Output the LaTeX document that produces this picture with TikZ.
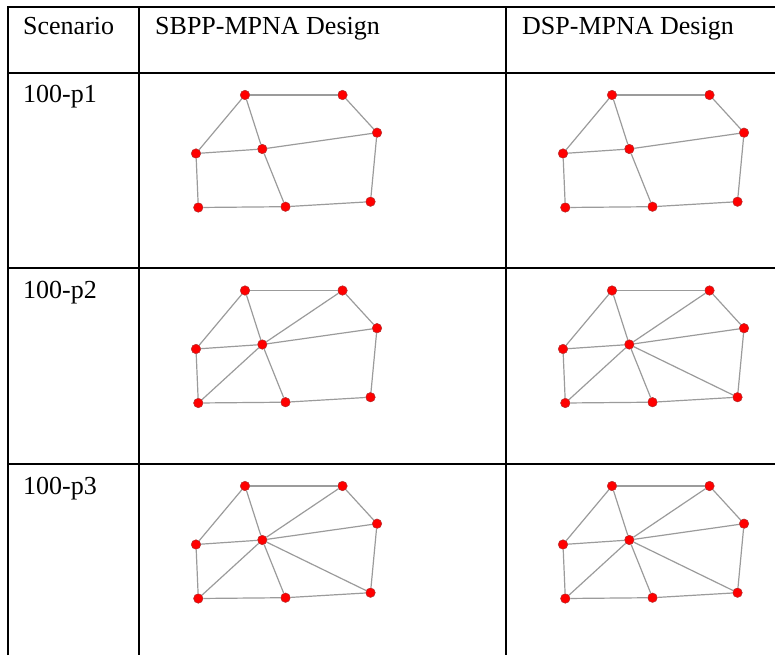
\documentclass[tikz,border=0pt]{standalone}
\usepackage{fontspec}
\setmainfont{Liberation Serif}
\begin{document}
\begin{tikzpicture}[x=1pt,y=-1pt,
  rule/.style={line width=2pt,black},
  cell/.style={anchor=base west,inner sep=0pt,font=\fontsize{26}{30}\selectfont},
  netnode/.style={circle,fill={rgb,255:red,255;green,0;blue,0},draw={rgb,255:red,175;green,45;blue,45},line width=0.5pt,minimum size=9.5pt,inner sep=0pt},
  netedge/.style={draw={rgb,255:red,155;green,155;blue,155},line width=1.2pt}]
\useasboundingbox (0,0) rectangle (775,655);

% table rules
\draw[rule] (8,655) -- (8,7) -- (775,7);
\draw[rule] (139,7) -- (139,655);
\draw[rule] (506,7) -- (506,655);
\foreach \ry in {73,268,464} \draw[rule] (8,\ry) -- (775,\ry);

% header and scenario labels
\node[cell] (hs) at (23,35) {Scenario};
\node[cell] (h1) at (155,35) {SBPP-MPNA Design};
\node[cell] (h2) at (522,35) {DSP-MPNA Design};
\node[cell] (s1) at (23,103) {100-p1};
\node[cell] (s2) at (23,298.5) {100-p2};
\node[cell] (s3) at (23,494) {100-p3};

% one network drawing: #1 name prefix, #2/#3 offset, #4 links
\newcommand\drawnet[4]{%
  \begin{scope}[shift={(#2,#3)}]
    \foreach \n/\px/\py in {a/245/95, b/342.5/95, c/377/132.7, d/196/153.5,
                            e/262.3/149, f/198.3/207.5, g/285.5/206.7, h/370.5/201.7}
      \node[netnode] (#1\n) at (\px,\py) {};
    \foreach \u/\v in {#4} \draw[netedge] (#1\u) -- (#1\v);
  \end{scope}}

\drawnet{ps}{0}{0}{a/b,b/c,a/d,a/e,d/e,e/c,d/f,e/g,f/g,g/h,c/h}
\drawnet{pd}{367}{0}{a/b,b/c,a/d,a/e,d/e,e/c,d/f,e/g,f/g,g/h,c/h}
\drawnet{qs}{0}{195.5}{a/b,b/c,a/d,a/e,d/e,e/c,d/f,e/g,f/g,g/h,c/h,b/e,f/e}
\drawnet{qd}{367}{195.5}{a/b,b/c,a/d,a/e,d/e,e/c,d/f,e/g,f/g,g/h,c/h,b/e,f/e,e/h}
\drawnet{rs}{0}{391}{a/b,b/c,a/d,a/e,d/e,e/c,d/f,e/g,f/g,g/h,c/h,b/e,f/e,e/h}
\drawnet{rd}{367}{391}{a/b,b/c,a/d,a/e,d/e,e/c,d/f,e/g,f/g,g/h,c/h,b/e,f/e,e/h}
\end{tikzpicture}
\end{document}
